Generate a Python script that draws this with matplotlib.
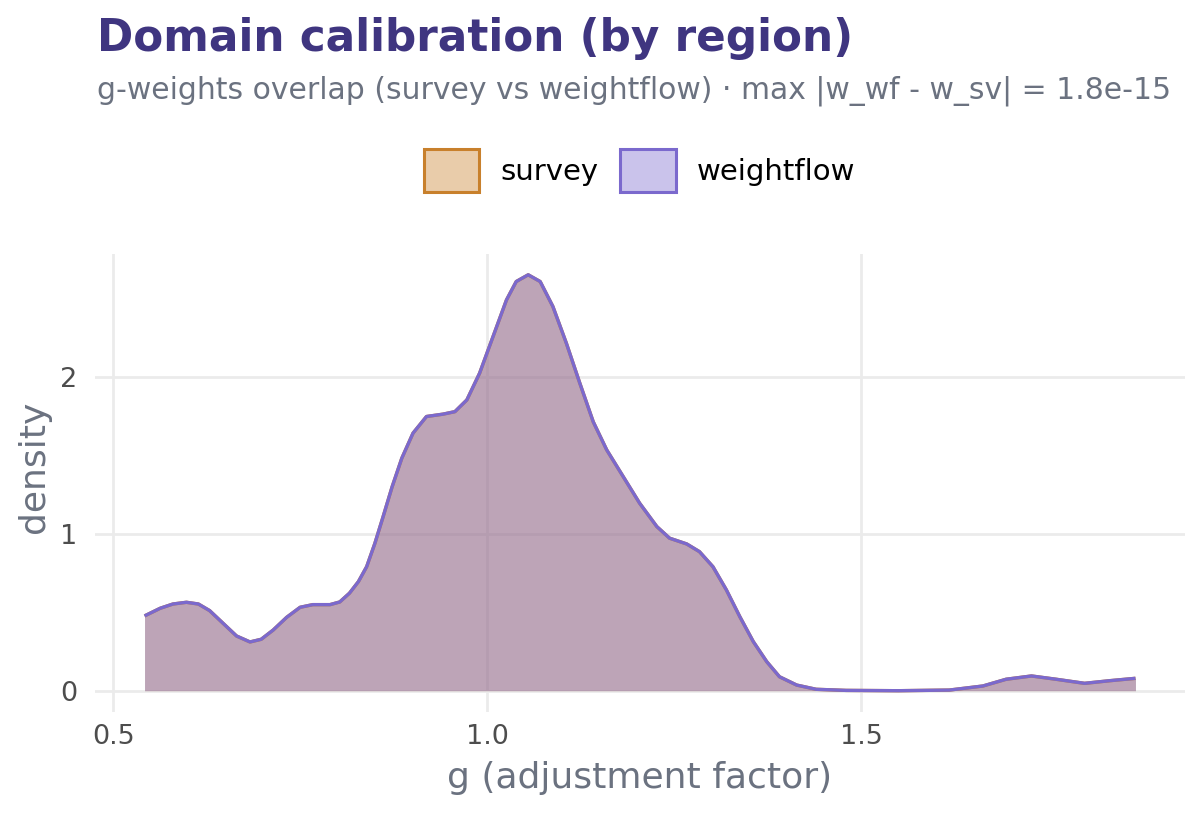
import matplotlib
matplotlib.use("Agg")
import matplotlib.pyplot as plt
from matplotlib.patches import Patch
from matplotlib.colors import to_rgba

# ---- data ----
g_values = [0.542, 0.563, 0.580, 0.598, 0.614, 0.629, 0.647, 0.665, 0.683, 0.698,
            0.714, 0.732, 0.750, 0.767, 0.790, 0.803, 0.816, 0.828, 0.839, 0.850,
            0.861, 0.873, 0.886, 0.901, 0.919, 0.941, 0.957, 0.973, 0.990, 1.008,
            1.026, 1.039, 1.055, 1.071, 1.088, 1.106, 1.124, 1.142, 1.160, 1.182,
            1.204, 1.227, 1.244, 1.267, 1.284, 1.302, 1.320, 1.338, 1.356, 1.374,
            1.391, 1.414, 1.440, 1.480, 1.550, 1.618, 1.663, 1.694, 1.728, 1.761,
            1.799, 1.833, 1.867]
survey_density = [0.477, 0.526, 0.553, 0.564, 0.553, 0.511, 0.430, 0.349, 0.311, 0.328,
                  0.387, 0.468, 0.532, 0.549, 0.549, 0.566, 0.622, 0.696, 0.791, 0.940,
                  1.110, 1.300, 1.483, 1.643, 1.749, 1.764, 1.780, 1.855, 2.025, 2.259,
                  2.493, 2.610, 2.653, 2.610, 2.451, 2.217, 1.962, 1.715, 1.536, 1.366,
                  1.196, 1.047, 0.973, 0.936, 0.887, 0.791, 0.643, 0.472, 0.313, 0.185,
                  0.089, 0.036, 0.009, 0.002, 0.000, 0.004, 0.030, 0.073, 0.094, 0.073,
                  0.047, 0.064, 0.079]
weightflow_density = list(survey_density)
series_names = ["survey", "weightflow"]
x_ticks = [0.5, 1.0, 1.5]
x_tick_labels = ["0.5", "1.0", "1.5"]
y_ticks = [0, 1, 2]
y_tick_labels = ["0", "1", "2"]

colors = {"survey": "#C8802C", "weightflow": "#7B69CD"}

W, H = 1200, 816
fig = plt.figure(figsize=(12, 8.16), dpi=100)
ax = fig.add_axes([95/W, 104.5/H, (1185-95)/W, (562-104.5)/H])

for name, dens in zip(series_names, [survey_density, weightflow_density]):
    ax.fill_between(g_values, 0, dens, color=colors[name], alpha=0.4, linewidth=0, zorder=2)
    ax.plot(g_values, dens, color=colors[name], linewidth=2.4, zorder=3,
            solid_capstyle="butt", solid_joinstyle="round")

xr = max(g_values) - min(g_values)
ax.set_xlim(min(g_values) - 0.05 * xr, max(g_values) + 0.05 * xr)
ymax = max(max(survey_density), max(weightflow_density))
ax.set_ylim(-0.05 * ymax, ymax * 1.05)

ax.set_xticks(x_ticks)
ax.set_xticklabels(x_tick_labels)
ax.set_yticks(y_ticks)
ax.set_yticklabels(y_tick_labels)
ax.tick_params(axis="both", length=0, labelsize=19.5, labelcolor="#4D4D4D")
ax.tick_params(axis="y", pad=13)
ax.tick_params(axis="x", pad=9)
for s in ax.spines.values():
    s.set_visible(False)
ax.grid(True, color="#EBEBEB", linewidth=2.0, zorder=0)
ax.set_axisbelow(True)

ax.set_xlabel("g (adjustment factor)", fontsize=26, color="#6B7280")
ax.set_ylabel("density", fontsize=26, color="#6B7280")
ax.xaxis.set_label_coords(640/W, 1 - 778/H, transform=fig.transFigure)
ax.xaxis.label.set_va("center")
ax.yaxis.set_label_coords(34/W, 1 - 467/H, transform=fig.transFigure)
ax.yaxis.label.set_va("center")

fig.text(97/W, 1 - 51/H, "Domain calibration (by region)", fontsize=31.5,
         fontweight="bold", color="#3F3580", va="baseline", ha="left")
fig.text(97/W, 1 - 98/H,
         "g-weights overlap (survey vs weightflow) \u00b7 max |w_wf - w_sv| = 1.8e-15",
         fontsize=21.5, color="#6B7280", va="baseline", ha="left")

handles = [Patch(facecolor=to_rgba(colors[n], 0.4), edgecolor=colors[n], linewidth=2.2,
                 label=n) for n in series_names]
leg = fig.legend(handles=handles, loc="center", bbox_to_anchor=(639.5/W, 1 - 170.5/H),
                 ncol=2, frameon=False, fontsize=21, handlelength=1.9, handleheight=1.9,
                 handletextpad=0.72, columnspacing=0.75, borderpad=0, borderaxespad=0)

fig.savefig("out.png", dpi=100)
